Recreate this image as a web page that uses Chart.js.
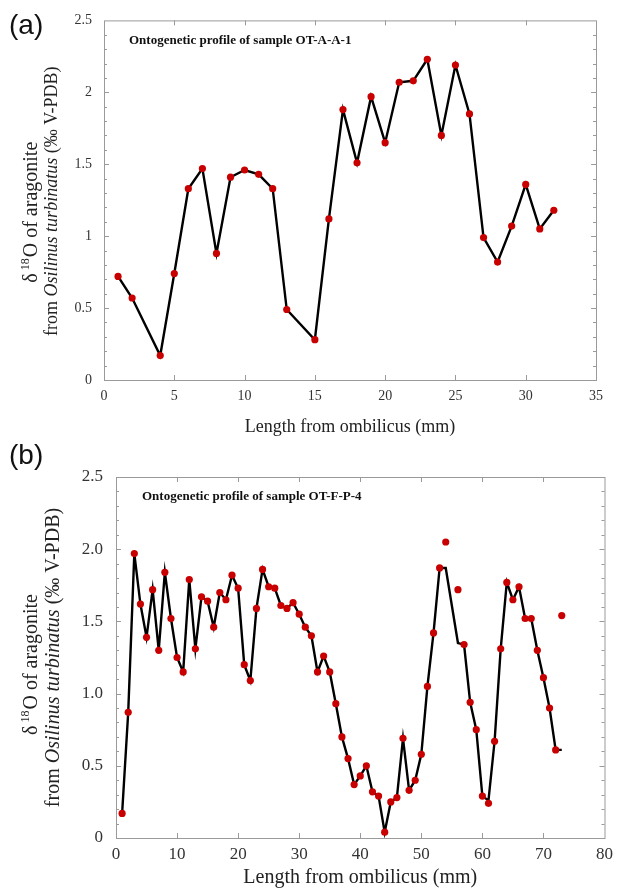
<!DOCTYPE html>
<html>
<head>
<meta charset="utf-8">
<script src="https://cdn.jsdelivr.net/npm/chart.js@4.4.1/dist/chart.umd.min.js"></script>
<style>
html, body { margin: 0; padding: 0; background: #fff; }
#wrap { position: relative; width: 619px; height: 894px; }
.panel { position: absolute; left: 0; width: 619px; }
</style>
</head>
<body>
<div id="wrap">
  <div class="panel" style="top:0;height:440px"><canvas id="chartA" width="619" height="440"></canvas></div>
  <div class="panel" style="top:440px;height:454px"><canvas id="chartB" width="619" height="454"></canvas></div>
</div>
<script>
// (a) sample OT-A-A-1
var lengthA = [1, 2, 4, 5, 6, 7, 8, 9, 10, 11, 12, 13, 15, 16, 17, 18, 19, 20, 21, 22, 23, 24, 25, 26, 27, 28, 29, 30, 31, 32];
var d18OA = [0.72, 0.57, 0.17, 0.74, 1.33, 1.47, 0.88, 1.41, 1.46, 1.43, 1.33, 0.49, 0.28, 1.12, 1.88, 1.51, 1.97, 1.65, 2.07, 2.08, 2.23, 1.70, 2.19, 1.85, 0.99, 0.82, 1.07, 1.36, 1.05, 1.18];
var xTicksA = ["0", "5", "10", "15", "20", "25", "30", "35"];
var yTicksA = ["0", "0.5", "1", "1.5", "2", "2.5"];

// (b) sample OT-F-P-4 : measured points and the drawn profile line
var lengthB = [1, 2, 3, 4, 5, 6, 7, 8, 9, 10, 11, 12, 13, 14, 15, 16, 17, 18, 19, 20, 21, 22, 23, 24, 25, 26, 27, 28, 29, 30,
  31, 32, 33, 34, 35, 36, 37, 38, 39, 40, 41, 42, 43, 44, 45, 46, 47, 48, 49, 50, 51, 52, 53, 54, 56, 57, 58, 59, 60,
  61, 62, 63, 64, 65, 66, 67, 68, 69, 70, 71, 72, 73];
var d18OB = [0.17, 0.87, 1.97, 1.62, 1.39, 1.72, 1.30, 1.84, 1.52, 1.25, 1.15, 1.79, 1.31, 1.67, 1.64, 1.46, 1.70, 1.65, 1.82, 1.73,
  1.20, 1.09, 1.59, 1.86, 1.74, 1.73, 1.61, 1.59, 1.63, 1.55, 1.46, 1.40, 1.15, 1.26, 1.15, 0.93, 0.70, 0.55, 0.37, 0.43,
  0.50, 0.32, 0.29, 0.04, 0.25, 0.28, 0.69, 0.33, 0.40, 0.58, 1.05, 1.42, 1.87, 2.05, 1.72, 1.34, 0.94, 0.75, 0.29,
  0.24, 0.67, 1.31, 1.77, 1.65, 1.74, 1.52, 1.52, 1.30, 1.11, 0.90, 0.61, 1.54];
var lineB = [0.17, 0.87, 1.97, 1.62, 1.39, 1.72, 1.30, 1.84, 1.52, 1.25, 1.15, 1.79, 1.31, 1.67, 1.64, 1.46, 1.70, 1.65, 1.82, 1.73,
  1.20, 1.09, 1.59, 1.86, 1.74, 1.73, 1.61, 1.59, 1.63, 1.55, 1.46, 1.40, 1.15, 1.26, 1.15, 0.93, 0.70, 0.55, 0.37, 0.43,
  0.50, 0.32, 0.29, 0.04, 0.25, 0.28, 0.69, 0.33, 0.40, 0.58, 1.05, 1.42, 1.87, 1.87, 1.35, 1.34, 0.94, 0.75, 0.29,
  0.26, 0.67, 1.31, 1.77, 1.65, 1.74, 1.52, 1.52, 1.30, 1.11, 0.90, 0.61, 0.61];
var xTicksB = ["0", "10", "20", "30", "40", "50", "60", "70", "80"];
var yTicksB = ["0", "0.5", "1.0", "1.5", "2.0", "2.5"];

var SERIF = "'Liberation Serif', 'Times New Roman', serif";

function pts(xs, ys) {
  return xs.map((x, i) => ({ x: x, y: ys[i] }));
}

function drawRich(ctx, parts, cx, cy) {
  var total = 0;
  parts.forEach(p => { ctx.font = p.font; p.w = ctx.measureText(p.text).width + (p.gap || 0); total += p.w; });
  ctx.save();
  ctx.translate(cx, cy);
  ctx.rotate(-Math.PI / 2);
  ctx.textBaseline = "middle";
  ctx.fillStyle = "#222";
  var x = -total / 2;
  parts.forEach(p => { ctx.font = p.font; ctx.fillText(p.text, x, p.dy || 0); x += p.w; });
  ctx.restore();
}

// frame + inward tick marks on all four sides
var framePlugin = {
  id: "frame",
  beforeDatasetsDraw(chart, args, o) {
    var ctx = chart.ctx, a = chart.chartArea, x = chart.scales.x, y = chart.scales.y;
    ctx.save();
    ctx.strokeStyle = "#9a9a9a";
    ctx.lineWidth = 1;
    ctx.strokeRect(a.left + 0.5, a.top + 0.5, a.right - a.left, a.bottom - a.top);
    ctx.beginPath();
    for (var v = x.min + o.xStep; v < x.max; v += o.xStep) {
      var px = Math.round(x.getPixelForValue(v)) + 0.5;
      ctx.moveTo(px, a.top); ctx.lineTo(px, a.top + 5);
      ctx.moveTo(px, a.bottom); ctx.lineTo(px, a.bottom - 5);
    }
    for (var i = 1; i < 25; i++) {
      var py = Math.round(y.getPixelForValue(i / 10)) + 0.5;
      var len = i % 5 === 0 ? 5 : 3;
      ctx.moveTo(a.left, py); ctx.lineTo(a.left + len, py);
      ctx.moveTo(a.right, py); ctx.lineTo(a.right - len, py);
    }
    ctx.stroke();
    ctx.restore();
  },
  afterDraw(chart, args, o) {
    var ctx = chart.ctx, a = chart.chartArea;
    ctx.save();
    ctx.fillStyle = "#111";
    ctx.font = "28px 'Liberation Sans', Arial, sans-serif";
    ctx.textBaseline = "alphabetic";
    ctx.fillText(o.panel, o.panelX, o.panelY);
    ctx.font = "bold 13px " + SERIF;
    ctx.textBaseline = "middle";
    ctx.fillText(o.title, o.titleX, o.titleY);
    ctx.restore();
    var f1 = o.y1Font, f2 = o.y2Font;
    var cy = (a.top + a.bottom) / 2;
    drawRich(ctx, [
      { text: "\u03b4", font: f1 + "px " + SERIF, gap: 3 },
      { text: "18", font: Math.round(f1 * 0.6) + "px " + SERIF, dy: -f1 * 0.32, gap: 1 },
      { text: "O of aragonite", font: f1 + "px " + SERIF }
    ], o.y1X, cy + o.y1dY);
    drawRich(ctx, [
      { text: "from ", font: f2 + "px " + SERIF },
      { text: "Osilinus turbinatus", font: "italic " + f2 + "px " + SERIF },
      { text: " (\u2030 V-PDB)", font: f2 + "px " + SERIF }
    ], o.y2X, cy + o.y2dY);
  }
};

function makeChart(id, cfg) {
  var datasets = [];
  if (cfg.lineValues) {
    datasets.push({
      data: pts(cfg.xs, cfg.ys), showLine: false,
      pointRadius: 3.6, pointBackgroundColor: "#c80000", pointBorderWidth: 0
    });
    datasets.push({
      data: pts(cfg.xs, cfg.lineValues), borderColor: "#000", borderWidth: 2.4,
      pointRadius: 0, tension: 0
    });
  } else {
    datasets.push({
      data: pts(cfg.xs, cfg.ys), borderColor: "#000", borderWidth: 2.4, tension: 0,
      pointRadius: 3.6, pointBackgroundColor: "#c80000", pointBorderWidth: 0
    });
  }
  return new Chart(id, {
    type: "line",
    data: { datasets: datasets },
    plugins: [framePlugin],
    options: {
      responsive: false,
      animation: false,
      layout: { padding: cfg.padding },
      scales: {
        x: {
          type: "linear", min: 0, max: cfg.xMax,
          grid: { display: false, drawTicks: false },
          border: { display: false },
          ticks: {
            stepSize: cfg.xStep, padding: cfg.xPad, color: "#333",
            font: { family: SERIF, size: cfg.tickSize },
            callback: (v, i) => cfg.xTicks[i]
          },
          title: {
            display: true, text: "Length from ombilicus (mm)", color: "#222",
            font: { family: SERIF, size: cfg.xTitleSize, lineHeight: 1.2 },
            padding: { top: 0, bottom: cfg.xTitlePad }
          },
          afterFit: s => { s.height = cfg.xHeight; }
        },
        y: {
          min: 0, max: 2.5,
          grid: { display: false, drawTicks: false },
          border: { display: false },
          ticks: {
            stepSize: 0.5, padding: cfg.yPad, color: "#333",
            font: { family: SERIF, size: cfg.tickSize },
            callback: (v, i) => cfg.yTicks[i]
          },
          afterFit: s => { s.width = cfg.yWidth; }
        }
      },
      plugins: {
        legend: { display: false },
        tooltip: { enabled: false },
        frame: cfg.frame
      }
    }
  });
}

makeChart("chartA", {
  xs: lengthA, ys: d18OA, xMax: 35, xStep: 5, xTicks: xTicksA, yTicks: yTicksA,
  padding: { left: 0, top: 19, right: 23, bottom: 0 },
  tickSize: 14, xPad: 8, yPad: 12, xTitleSize: 18, xTitlePad: 2, xHeight: 60, yWidth: 104,
  frame: {
    xStep: 5, panel: "(a)", panelX: 9, panelY: 34,
    title: "Ontogenetic profile of sample OT-A-A-1", titleX: 129, titleY: 41,
    y1Font: 20, y2Font: 18, y1X: 32, y1dY: 12, y2X: 52, y2dY: 1
  }
});

makeChart("chartB", {
  xs: lengthB, ys: d18OB, lineValues: lineB, xMax: 80, xStep: 10, xTicks: xTicksB, yTicks: yTicksB,
  padding: { left: 0, top: 37, right: 12, bottom: 0 },
  tickSize: 17, xPad: 6, yPad: 13, xTitleSize: 20, xTitlePad: 4, xHeight: 56, yWidth: 116,
  frame: {
    xStep: 10, panel: "(b)", panelX: 9, panelY: 24,
    title: "Ontogenetic profile of sample OT-F-P-4", titleX: 142, titleY: 57,
    y1Font: 20, y2Font: 20, y1X: 32, y1dY: 7, y2X: 54, y2dY: 0
  }
});
</script>
</body>
</html>
